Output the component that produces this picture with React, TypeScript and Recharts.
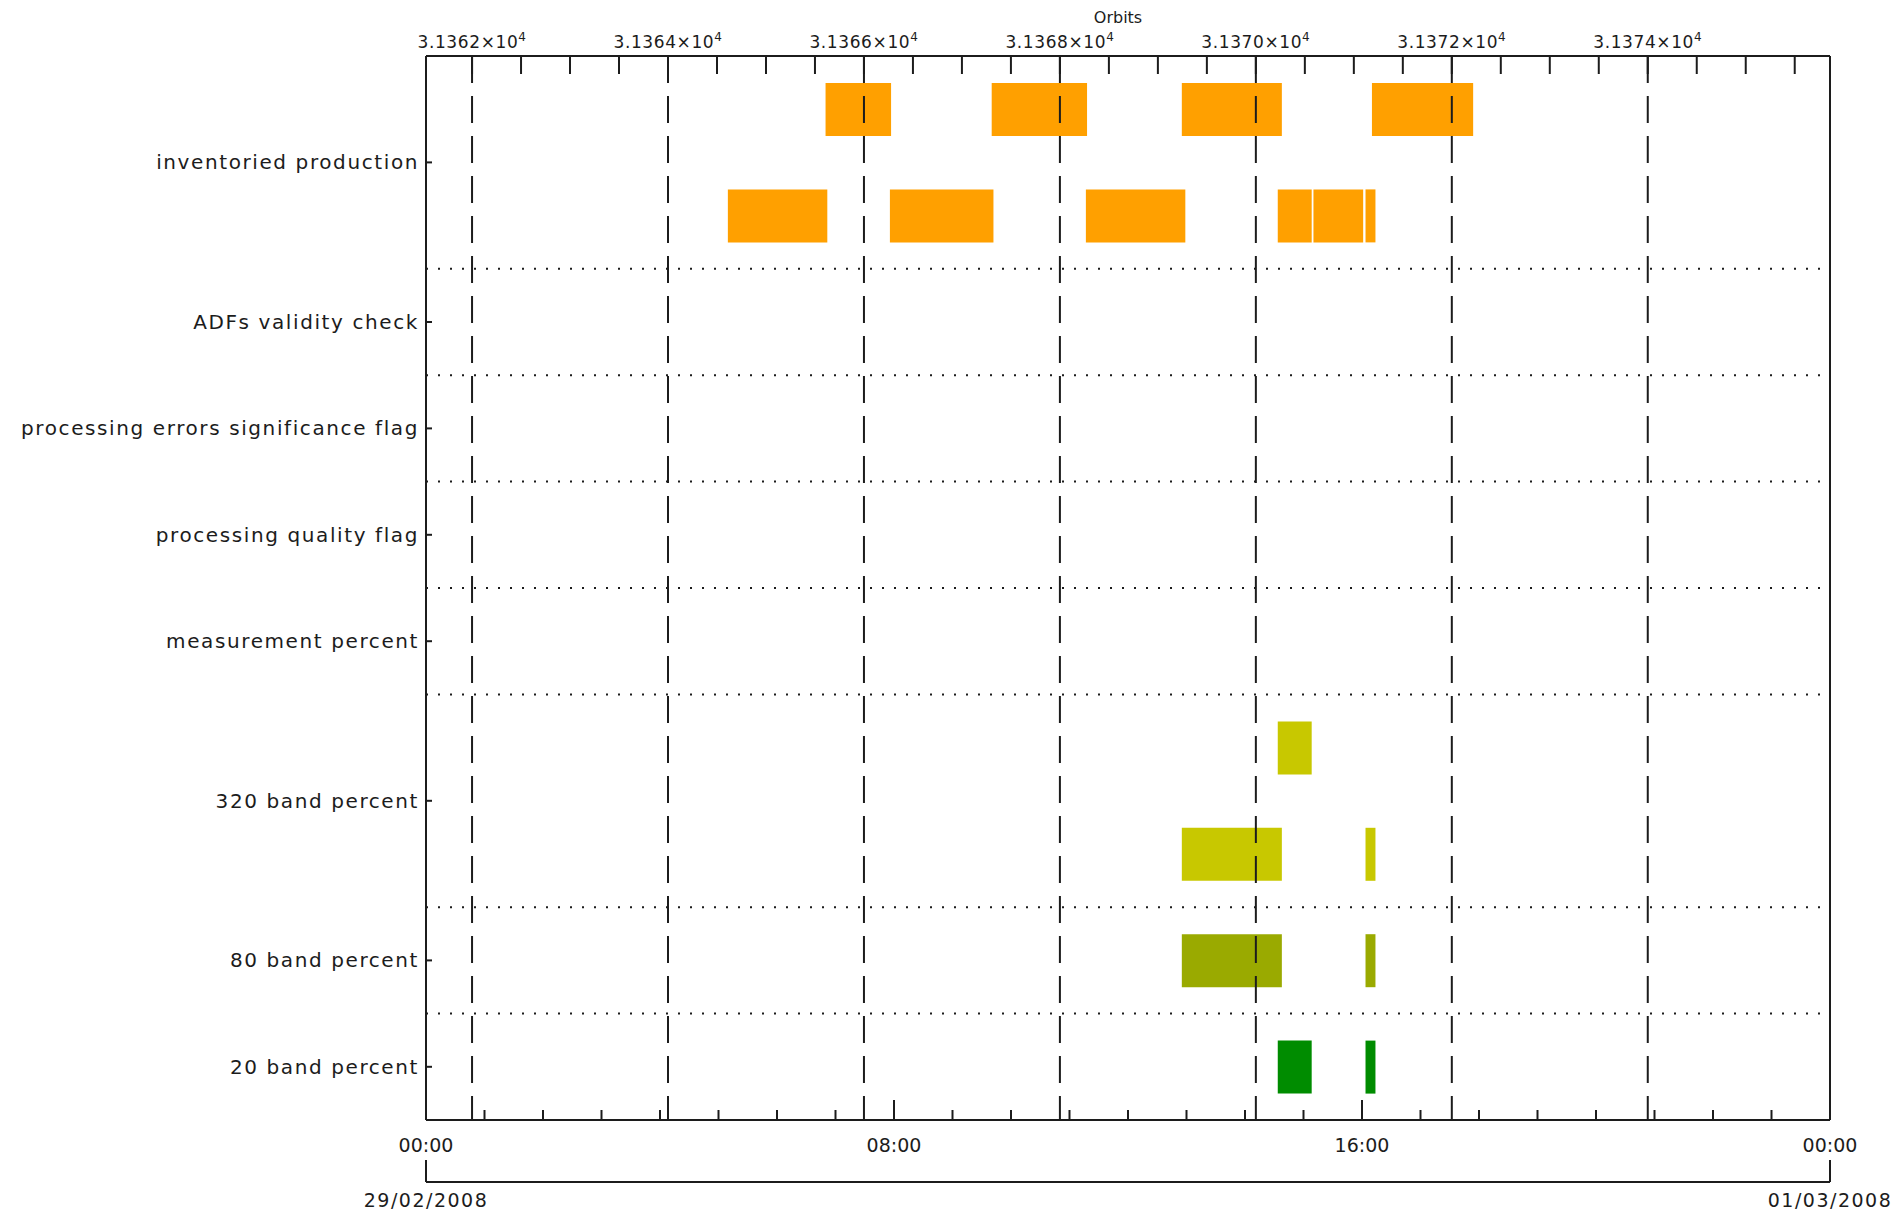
import React from "react";
import { ComposedChart, Bar, Cell, XAxis, YAxis, ReferenceLine } from "recharts";

const FONT = "'DejaVu Sans', Verdana, sans-serif";
const INK = "#1c1c1c";
const ORANGE = "#ffa000";
const YELLOW = "#c8c800";
const OLIVE = "#9aaa00";
const GREEN = "#008c00";

// row labels and how many lanes each row takes
const categories = [
  "inventoried production",
  "ADFs validity check",
  "processing errors significance flag",
  "processing quality flag",
  "measurement percent",
  "320 band percent",
  "80 band percent",
  "20 band percent",
];
const categoryLanes = [2, 1, 1, 1, 1, 2, 1, 1];

// [start, end] in hours after 00:00 on 29/02/2008
const inventoriedTop = [
  [6.83, 7.95],
  [9.67, 11.3],
  [12.92, 14.63],
  [16.17, 17.9],
];
const inventoriedBottom = [
  [5.16, 6.86],
  [7.93, 9.7],
  [11.28, 12.98],
  [14.56, 15.14],
  [15.17, 16.02],
  [16.06, 16.23],
];
const band320Top = [[14.56, 15.14]];
const band320Bottom = [
  [12.92, 14.63],
  [16.06, 16.23],
];
const band80 = [
  [12.92, 14.63],
  [16.06, 16.23],
];
const band20 = [
  [14.56, 15.14],
  [16.06, 16.23],
];

const laneSegments = [
  inventoriedTop,
  inventoriedBottom,
  [],
  [],
  [],
  [],
  band320Top,
  band320Bottom,
  band80,
  band20,
];
const laneColors = [ORANGE, ORANGE, ORANGE, ORANGE, ORANGE, ORANGE, YELLOW, YELLOW, OLIVE, GREEN];

// axes
const hourTicks = Array.from({ length: 25 }, (_, i) => i);
const hourLabels: Record<number, string> = { 0: "00:00", 8: "08:00", 16: "16:00", 24: "00:00" };
const dateTicks = [0, 24];
const dateLabels = ["29/02/2008", "01/03/2008"];
const orbitDomain = [31361.53, 31375.86];
const orbitMajors = [31362, 31364, 31366, 31368, 31370, 31372, 31374];
const orbitTicks = Array.from({ length: 28 }, (_, i) => 31362 + i * 0.5);

const laneIds = laneSegments.map((_, i) => `r${i}`);
const categoryStart = categoryLanes.map((_, i) =>
  categoryLanes.slice(0, i).reduce((a, b) => a + b, 0)
);
const maxSegs = Math.max(...laneSegments.map((s) => s.length));
const segIdx = Array.from({ length: maxSegs }, (_, j) => j);

// stacked table: transparent gap, then the coloured piece
const table = laneSegments.map((segs, i) => {
  const row: Record<string, any> = { lane: laneIds[i] };
  let prev = 0;
  segs.forEach(([s, e], j) => {
    row[`g${j}`] = s - prev;
    row[`b${j}`] = e - s;
    prev = e;
  });
  return row;
});

const axisStyle = { stroke: INK, strokeWidth: 2 };
const textStyle = { fontFamily: FONT, fill: INK };

const HourTick = (props: any) => {
  const { x, y, payload } = props;
  const label = hourLabels[payload.value];
  const len = label ? 20 : 10;
  return (
    <g>
      <line x1={x} x2={x} y1={y} y2={y - len} stroke={INK} strokeWidth={2} />
      {label && (
        <text x={x} y={y + 32} textAnchor="middle" fontSize={19} {...textStyle}>
          {label}
        </text>
      )}
    </g>
  );
};

const DateTick = (props: any) => {
  const { x, y, payload } = props;
  const label = dateLabels[dateTicks.indexOf(payload.value)];
  return (
    <g>
      <line x1={x} x2={x} y1={y} y2={y - 22} stroke={INK} strokeWidth={2} />
      <text x={x} y={y + 25} textAnchor="middle" fontSize={19} letterSpacing={1.5} {...textStyle}>
        {label}
      </text>
    </g>
  );
};

const OrbitTick = (props: any) => {
  const { x, y, payload } = props;
  const v = payload.value;
  const major = orbitMajors.includes(v);
  return (
    <g>
      <line x1={x} x2={x} y1={y} y2={y + 18} stroke={INK} strokeWidth={2} />
      {major && (
        <text x={x} y={y - 8} textAnchor="middle" fontSize={17} letterSpacing={0.6} {...textStyle}>
          {(v / 1e4).toFixed(4)}×10
          <tspan dy={-7} fontSize={12}>
            4
          </tspan>
        </text>
      )}
    </g>
  );
};

const LaneTick = (props: any) => {
  const { x, y, payload } = props;
  const lane = laneIds.indexOf(payload.value);
  const cat = categoryStart.indexOf(lane);
  if (cat < 0) return <g />;
  const half = payload.offset || 53.2;
  const cy = y + (categoryLanes[cat] - 1) * half;
  return (
    <g>
      <line x1={x} x2={x + 6} y1={cy} y2={cy} stroke={INK} strokeWidth={2} />
      <text
        x={x - 7}
        y={cy}
        dominantBaseline="central"
        textAnchor="end"
        fontSize={20}
        letterSpacing={1.6}
        {...textStyle}
      >
        {categories[cat]}
      </text>
    </g>
  );
};

export default function App() {
  return (
    <div style={{ marginLeft: -8, marginTop: -8 }}>
      <ComposedChart
        width={1900}
        height={1213}
        data={table}
        layout="vertical"
        margin={{ top: 0, right: 70, bottom: 1, left: 26 }}
      >
        <XAxis
          type="number"
          domain={[0, 24]}
          allowDataOverflow
          ticks={hourTicks}
          interval={0}
          height={62}
          tickSize={0}
          tickMargin={0}
          tickLine={false}
          axisLine={axisStyle}
          tick={(p: any) => <HourTick {...p} />}
        />
        <XAxis
          xAxisId="date"
          type="number"
          domain={[0, 24]}
          allowDataOverflow
          ticks={dateTicks}
          interval={0}
          height={30}
          tickSize={0}
          tickMargin={0}
          tickLine={false}
          axisLine={axisStyle}
          tick={(p: any) => <DateTick {...p} />}
        />
        <XAxis
          xAxisId="orbit"
          orientation="top"
          type="number"
          domain={orbitDomain}
          allowDataOverflow
          ticks={orbitTicks}
          interval={0}
          height={56}
          tickSize={0}
          tickMargin={0}
          tickLine={false}
          axisLine={axisStyle}
          tick={(p: any) => <OrbitTick {...p} />}
          label={{
            value: "Orbits",
            position: "insideTop",
            offset: 12,
            dx: -10,
            fontSize: 16,
            fill: INK,
            fontFamily: FONT,
          }}
        />
        <YAxis
          type="category"
          dataKey="lane"
          width={400}
          interval={0}
          tickSize={0}
          tickMargin={0}
          tickLine={false}
          axisLine={axisStyle}
          tick={(p: any) => <LaneTick {...p} />}
        />

        {categoryStart.slice(1).map((lane) => (
          <ReferenceLine
            key={`sep-${lane}`}
            y={laneIds[lane]}
            position="start"
            stroke={INK}
            strokeWidth={2}
            strokeDasharray="2 10"
          />
        ))}
        {orbitMajors.map((v) => (
          <ReferenceLine
            key={`orb-${v}`}
            xAxisId="orbit"
            x={v}
            stroke={INK}
            strokeWidth={2}
            strokeDasharray="27 13"
          />
        ))}
        <ReferenceLine x={24} stroke={INK} strokeWidth={2} />

        {segIdx.map((j) => [
          <Bar
            key={`g${j}`}
            dataKey={`g${j}`}
            stackId="lane"
            barSize={53}
            fill="none"
            isAnimationActive={false}
          />,
          <Bar
            key={`b${j}`}
            dataKey={`b${j}`}
            stackId="lane"
            barSize={53}
            isAnimationActive={false}
          >
            {table.map((_, i) => (
              <Cell key={i} fill={laneColors[i]} />
            ))}
          </Bar>,
        ])}
      </ComposedChart>
    </div>
  );
}
